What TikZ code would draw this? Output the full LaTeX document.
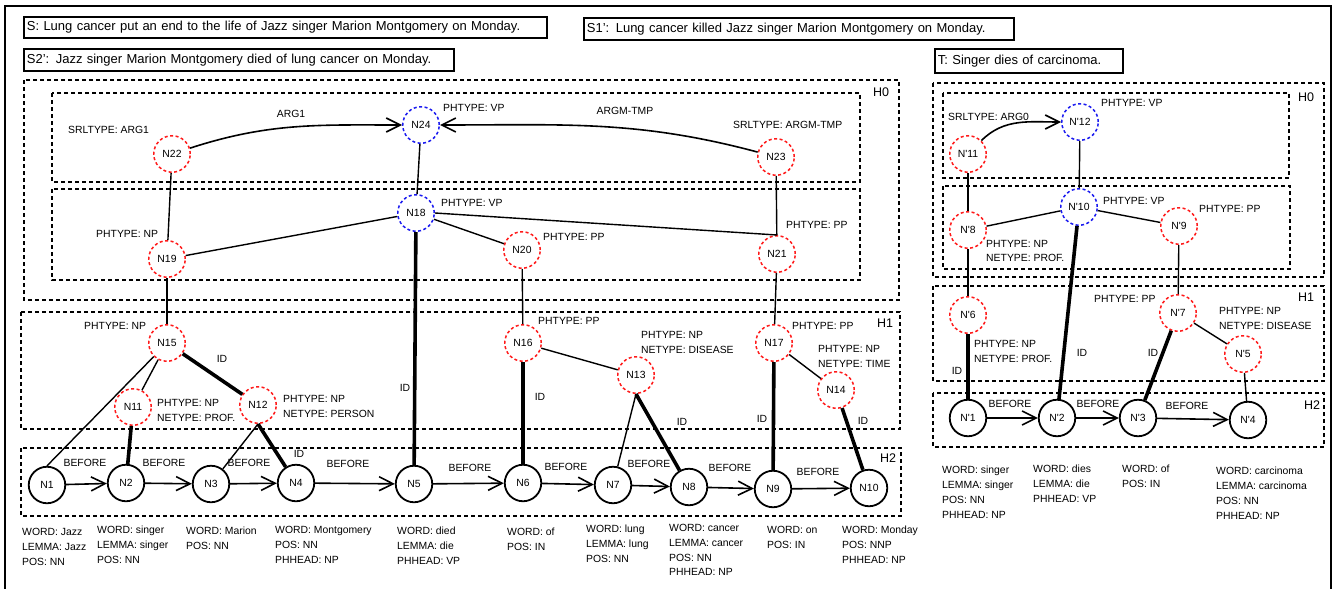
\documentclass[tikz,border=0pt]{standalone}
\usepackage{fontspec}
\setmainfont{Liberation Sans}
\usetikzlibrary{arrows.meta,positioning}
\definecolor{PhraseRed}{HTML}{FF1A1A}
\definecolor{VerbBlue}{HTML}{1A1AF0}
\newcommand{\qp}{\textquotesingle}
\tikzset{
  outerframe/.style={line width=1.3pt, draw=black},
  sentbox/.style={draw, line width=1.8pt, anchor=north west, align=left, inner xsep=3pt,
                  inner ysep=0pt, font=\fontsize{13}{15}\selectfont},
  tier/.style={draw, line width=1.6pt, dash pattern=on 4pt off 3pt},
  tiertag/.style={font=\fontsize{12.5}{14}\selectfont, inner sep=0pt},
  phrase/.style={circle, draw=PhraseRed, line width=1.5pt, dash pattern=on 3pt off 2.5pt,
                 minimum size=36.5pt, inner sep=0pt},
  verb/.style={phrase, draw=VerbBlue},
  token/.style={circle, draw=black, line width=1.8pt, minimum size=36.5pt, inner sep=0pt},
  attr/.style={anchor=west, align=left, inner sep=0pt},
  feat/.style={anchor=north west, align=left, inner sep=0pt},
  tag/.style={inner sep=0pt},
  plainlink/.style={line width=1.4pt},
  idlink/.style={line width=3.6pt},
  seqarc/.style={-{Straight Barb[length=14pt,width=14pt]}, line width=1.6pt},
  srlarc/.style={-{Straight Barb[length=14pt,width=14pt]}, line width=1.6pt},
}
\begin{document}
\begin{tikzpicture}[x=1pt,y=-1pt,font=\fontsize{10.4}{14.8}\selectfont]
    \useasboundingbox (0,0) rectangle (1336,589);
    \draw[outerframe] (5,589) -- (5,6) -- (1331,6) -- (1331,589);
    \node[sentbox,text width=517pt,minimum height=21pt] (sentS) at (23,16) {S: Lung cancer put an end to the life of Jazz singer Marion Montgomery on Monday.};
    \node[sentbox,text width=424pt,minimum height=22pt] (sentSa) at (583,17) {S1': Lung cancer killed Jazz singer Marion Montgomery on Monday.};
    \node[sentbox,text width=424pt,minimum height=22pt] (sentSb) at (23,48) {S2': Jazz singer Marion Montgomery died of lung cancer on Monday.};
    \node[sentbox,text width=182pt,minimum height=24pt] (sentT) at (934,48) {T: Singer dies of carcinoma.};
    \draw[tier] (24,80) rectangle (899,300);
    \draw[tier] (52,93) rectangle (860,182);
    \draw[tier] (52,189) rectangle (860,280);
    \draw[tier] (21,312) rectangle (900,429);
    \draw[tier] (21,448) rectangle (901,516);
    \node[tiertag] (hzero) at (881,92) {H0};
    \node[tiertag] (hone) at (885,323) {H1};
    \node[tiertag] (htwo) at (888,458) {H2};
    \draw[tier] (933,83) rectangle (1324,277);
    \draw[tier] (943,93) rectangle (1289,178);
    \draw[tier] (943,186) rectangle (1290,269);
    \draw[tier] (933,286) rectangle (1324,381);
    \draw[tier] (933,393) rectangle (1324,447);
    \node[tiertag] (hzeroT) at (1306,97) {H0};
    \node[tiertag] (honeT) at (1306,297) {H1};
    \node[tiertag] (htwoT) at (1312,405) {H2};
    \node[phrase] (N22) at (172,154) {N22};
    \node[verb] (N24) at (421,125) {N24};
    \node[phrase] (N23) at (776,157) {N23};
    \node[verb] (N18) at (416,213) {N18};
    \node[phrase] (N19) at (167,259) {N19};
    \node[phrase] (N20) at (522,250) {N20};
    \node[phrase] (N21) at (777,254) {N21};
    \node[phrase] (N15) at (167,343) {N15};
    \node[phrase] (N16) at (523,343) {N16};
    \node[phrase] (N13) at (636,375) {N13};
    \node[phrase] (N17) at (774,343) {N17};
    \node[phrase] (N14) at (836,390) {N14};
    \node[phrase] (N11) at (133,407) {N11};
    \node[phrase] (N12) at (258,405) {N12};
    \node[token] (N1) at (47,485) {N1};
    \node[token] (N2) at (126,483) {N2};
    \node[token] (N3) at (211,484) {N3};
    \node[token] (N4) at (296,483) {N4};
    \node[token] (N5) at (414,484) {N5};
    \node[token] (N6) at (523,483) {N6};
    \node[token] (N7) at (613,485) {N7};
    \node[token] (N8) at (689,487) {N8};
    \node[token] (N9) at (773,489) {N9};
    \node[token] (N10) at (869,488) {N10};
    \node[attr] (aN22) at (68,130) {SRLTYPE: ARG1};
    \node[tag] (lArgA) at (291,114) {ARG1};
    \node[attr] (aN24) at (443,108) {PHTYPE: VP};
    \node[tag] (lArgM) at (625,111) {ARGM-TMP};
    \node[attr] (aN23) at (733,125) {SRLTYPE: ARGM-TMP};
    \node[attr] (aN18) at (441,203) {PHTYPE: VP};
    \node[attr] (aN19) at (96,234) {PHTYPE: NP};
    \node[attr] (aN20) at (543,237) {PHTYPE: PP};
    \node[attr] (aN21) at (786,225) {PHTYPE: PP};
    \node[attr] (aN15) at (84,326) {PHTYPE: NP};
    \node[attr] (aN16) at (538,321) {PHTYPE: PP};
    \node[attr] (aN13) at (641,342.5) {PHTYPE: NP\\NETYPE: DISEASE};
    \node[attr] (aN17) at (792,326) {PHTYPE: PP};
    \node[attr] (aN14) at (818,356.5) {PHTYPE: NP\\NETYPE: TIME};
    \node[attr] (aN11) at (157,410.5) {PHTYPE: NP\\NETYPE: PROF.};
    \node[attr] (aN12) at (283,406.5) {PHTYPE: NP\\NETYPE: PERSON};
    \node[tag] (idA) at (222,359) {ID};
    \node[tag] (idB) at (405,388) {ID};
    \node[tag] (idC) at (540,397) {ID};
    \node[tag] (idD) at (299,454) {ID};
    \node[tag] (idE) at (682,422) {ID};
    \node[tag] (idF) at (762,419) {ID};
    \node[tag] (idG) at (863,421) {ID};
    \node[tag] (bA) at (85,463) {BEFORE};
    \node[tag] (bB) at (164,463) {BEFORE};
    \node[tag] (bC) at (249,463) {BEFORE};
    \node[tag] (bD) at (348,464) {BEFORE};
    \node[tag] (bE) at (470,468) {BEFORE};
    \node[tag] (bF) at (566,467) {BEFORE};
    \node[tag] (bG) at (649,464) {BEFORE};
    \node[tag] (bH) at (730,468) {BEFORE};
    \node[tag] (bI) at (818,472) {BEFORE};
    \node[feat] (wN1) at (22,528) {WORD: Jazz\\LEMMA: Jazz\\POS: NN};
    \node[feat] (wN2) at (97,526) {WORD: singer\\LEMMA: singer\\POS: NN};
    \node[feat] (wN3) at (186,527) {WORD: Marion\\POS: NN};
    \node[feat] (wN4) at (275,526) {WORD: Montgomery\\POS: NN\\PHHEAD: NP};
    \node[feat] (wN5) at (397,527) {WORD: died\\LEMMA: die\\PHHEAD: VP};
    \node[feat] (wN6) at (507,528) {WORD: of\\POS: IN};
    \node[feat] (wN7) at (586,525) {WORD: lung\\LEMMA: lung\\POS: NN};
    \node[feat] (wN8) at (669,524) {WORD: cancer\\LEMMA: cancer\\POS: NN\\PHHEAD: NP};
    \node[feat] (wN9) at (767,526) {WORD: on\\POS: IN};
    \node[feat] (wN10) at (842,526) {WORD: Monday\\POS: NNP\\PHHEAD: NP};
    \draw[srlarc] (N22) to[out=18,in=180] (N24);
    \draw[srlarc] (N23) to[out=165,in=0] (N24);
    \draw[plainlink] (N24) -- (N18);
    \draw[plainlink] (N22) -- (N19);
    \draw[plainlink] (N23) -- (N21);
    \draw[plainlink] (N18) -- (N19);
    \draw[plainlink] (N18) -- (N20);
    \draw[plainlink] (N18.east) -- (N21.north);
    \draw[plainlink] (N19) -- (N15);
    \draw[plainlink] (N20) -- (N16);
    \draw[plainlink] (N21) -- (N17);
    \draw[plainlink] (N15) -- (N1.north);
    \draw[plainlink] (N15) -- (N11);
    \draw[idlink] (N15) -- (N12);
    \draw[idlink] (N11) -- (N2);
    \draw[plainlink] (N12.south) -- (N3);
    \draw[idlink] (N12.south) -- (N4);
    \draw[idlink] (N18) -- (N5);
    \draw[idlink] (N16) -- (N6);
    \draw[plainlink] (N16) -- (N13);
    \draw[plainlink] (N13.south) -- (N7);
    \draw[idlink] (N13.south) -- (N8);
    \draw[idlink] (N17) -- (N9);
    \draw[plainlink] (N17) -- (N14);
    \draw[idlink] (N14) -- (N10);
    \draw[seqarc] (N1) -- (N2);
    \draw[seqarc] (N2) -- (N3);
    \draw[seqarc] (N3) -- (N4);
    \draw[seqarc] (N4) -- (N5);
    \draw[seqarc] (N5) -- (N6);
    \draw[seqarc] (N6) -- (N7);
    \draw[seqarc] (N7) -- (N8);
    \draw[seqarc] (N8) -- (N9);
    \draw[seqarc] (N9) -- (N10);
    \node[phrase] (Np11) at (968,154) {N\qp11};
    \node[verb] (Np12) at (1080,122) {N\qp12};
    \node[verb] (Np10) at (1079,207) {N\qp10};
    \node[phrase] (Np8) at (968,230) {N\qp8};
    \node[phrase] (Np9) at (1179,226) {N\qp9};
    \node[phrase] (Np6) at (968,315) {N\qp6};
    \node[phrase] (Np7) at (1178,313) {N\qp7};
    \node[phrase] (Np5) at (1243,354) {N\qp5};
    \node[token] (Np1) at (968,418) {N\qp1};
    \node[token] (Np2) at (1057,418) {N\qp2};
    \node[token] (Np3) at (1138,418) {N\qp3};
    \node[token] (Np4) at (1248,420) {N\qp4};
    \node[attr] (aNp11) at (948,117) {SRLTYPE: ARG0};
    \node[attr] (aNp12) at (1101,103) {PHTYPE: VP};
    \node[attr] (aNp10) at (1103,201) {PHTYPE: VP};
    \node[attr] (aNp9) at (1199,209) {PHTYPE: PP};
    \node[attr] (aNp8) at (986,251) {PHTYPE: NP\\NETYPE: PROF.};
    \node[attr] (aNp7) at (1094,299) {PHTYPE: PP};
    \node[attr] (aNp5) at (1219,318.5) {PHTYPE: NP\\NETYPE: DISEASE};
    \node[attr] (aNp6) at (974,351.5) {PHTYPE: NP\\NETYPE: PROF.};
    \node[tag] (idT1) at (957,371) {ID};
    \node[tag] (idT2) at (1082,353) {ID};
    \node[tag] (idT3) at (1153,353) {ID};
    \node[tag] (bT1) at (1010,404) {BEFORE};
    \node[tag] (bT2) at (1098,404) {BEFORE};
    \node[tag] (bT3) at (1187,406) {BEFORE};
    \node[feat] (wNp1) at (942,466) {WORD: singer\\LEMMA: singer\\POS: NN\\PHHEAD: NP};
    \node[feat] (wNp2) at (1033,465) {WORD: dies\\LEMMA: die\\PHHEAD: VP};
    \node[feat] (wNp3) at (1122,465) {WORD: of\\POS: IN};
    \node[feat] (wNp4) at (1216,467) {WORD: carcinoma\\LEMMA: carcinoma\\POS: NN\\PHHEAD: NP};
    \draw[srlarc] (Np11) to[out=45,in=180] (Np12);
    \draw[plainlink] (Np12) -- (Np10);
    \draw[plainlink] (Np11) -- (Np8);
    \draw[plainlink] (Np10) -- (Np8);
    \draw[plainlink] (Np10) -- (Np9);
    \draw[plainlink] (Np8) -- (Np6);
    \draw[plainlink] (Np9) -- (Np7);
    \draw[plainlink] (Np7) -- (Np5);
    \draw[plainlink] (Np5) -- (Np4);
    \draw[idlink] (Np6) -- (Np1);
    \draw[idlink] (Np10) -- (Np2);
    \draw[idlink] (Np7) -- (Np3);
    \draw[seqarc] (Np1) -- (Np2);
    \draw[seqarc] (Np2) -- (Np3);
    \draw[seqarc] (Np3) -- (Np4);
  \end{tikzpicture}
\end{document}
